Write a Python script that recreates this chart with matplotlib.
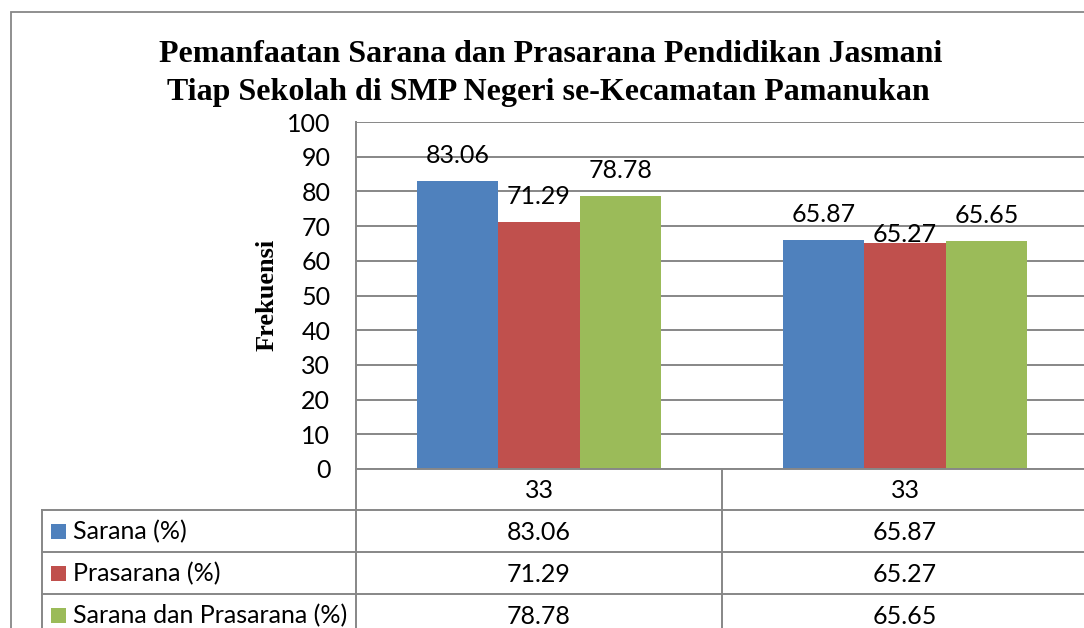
import matplotlib
matplotlib.use("Agg")
import matplotlib.pyplot as plt
from matplotlib.lines import Line2D
from matplotlib.patches import Rectangle
import matplotlib.transforms as mtransforms

# ---------------- data ----------------
title_lines = ["Pemanfaatan Sarana dan Prasarana Pendidikan Jasmani",
               "Tiap Sekolah di SMP Negeri se-Kecamatan Pamanukan"]
y_label = "Frekuensi"
categories = ["33", "33"]
series_names = ["Sarana (%)", "Prasarana (%)", "Sarana dan Prasarana (%)"]
sarana = [83.06, 65.87]
prasarana = [71.29, 65.27]
sarana_prasarana = [78.78, 65.65]
y_ticks = [0, 10, 20, 30, 40, 50, 60, 70, 80, 90, 100]

series_values = [sarana, prasarana, sarana_prasarana]
colors = ["#4F81BD", "#C0504D", "#9BBB59"]

# ---------------- layout helpers ----------------
W, H = 1084, 628
fig = plt.figure(figsize=(W / 100, H / 100), dpi=100)
fig.patch.set_facecolor("white")


def fx(x):
    return x / W


def fy(y):
    return 1 - y / H


NUM_FONT = ["Lato", "DejaVu Sans"]
NUM_SIZE = 18
SERIF = ["Liberation Serif", "DejaVu Serif"]
GRID_C = "#878787"

# chart border (extends beyond image at right/bottom)
fig.add_artist(Rectangle((fx(11), fy(700)), fx(1200) - fx(11), fy(12) - fy(700),
                         transform=fig.transFigure, fill=False,
                         edgecolor=GRID_C, lw=1.3))

ax = fig.add_axes([fx(356), fy(469), fx(1088) - fx(356), fy(122) - fy(469)])
ax.set_xlim(-0.5, len(categories) - 0.5)
ax.set_ylim(0, 100)
for s in ax.spines.values():
    s.set_visible(False)
ax.set_xticks([])
ax.set_yticks(y_ticks)
ax.set_yticklabels([str(t) for t in y_ticks], fontfamily=NUM_FONT, fontsize=NUM_SIZE)
ax.tick_params(axis="y", length=0, pad=18.5)
ax.yaxis.grid(True, color=GRID_C, lw=1.4)
ax.set_axisbelow(True)

bw = 0.2227
xs = list(range(len(categories)))
for i, (vals, col) in enumerate(zip(series_values, colors)):
    pos = [x + (i - 1) * bw for x in xs]
    ax.bar(pos, vals, bw, color=col, zorder=2)
    for j, (p, v) in enumerate(zip(pos, vals)):
        pad = 18
        if i == 1 and j == 1:
            pad = 1  # label pushed down to avoid neighbouring labels
        ax.annotate(f"{v:.2f}", (p, v), xytext=(0, pad), textcoords="offset pixels",
                    ha="center", va="baseline", fontfamily=NUM_FONT,
                    fontsize=NUM_SIZE, zorder=3)

# titles
fig.text(fx(551), fy(62), title_lines[0], ha="center", va="baseline",
         fontfamily=SERIF, fontweight="bold", fontsize=23)
fig.text(fx(548), fy(100), title_lines[1], ha="center", va="baseline",
         fontfamily=SERIF, fontweight="bold", fontsize=23)

# y label
fig.text(fx(267), fy(295), y_label, rotation=90, ha="center", va="center",
         fontfamily=SERIF, fontweight="bold", fontsize=19)

# ---------------- data table ----------------
blend = mtransforms.blended_transform_factory(ax.transData, fig.transFigure)
row_edges = [469, 510, 552, 594, 636]
lw_t = 1.4


def hline(x0_fig, y, x1_fig):
    fig.add_artist(Line2D([x0_fig, x1_fig], [fy(y), fy(y)], transform=fig.transFigure,
                          color=GRID_C, lw=lw_t))


# horizontal lines
hline(fx(356), row_edges[0], 1.05)
for y in row_edges[1:]:
    hline(fx(42), y, 1.05)
# vertical lines
fig.add_artist(Line2D([fx(42), fx(42)], [fy(510), fy(700)], transform=fig.transFigure,
                      color=GRID_C, lw=lw_t))
fig.add_artist(Line2D([fx(356), fx(356)], [fy(122), fy(700)], transform=fig.transFigure,
                      color=GRID_C, lw=lw_t))
for k in range(1, len(categories) + 1):
    fig.add_artist(Line2D([k - 0.5, k - 0.5], [fy(469), fy(700)], transform=blend,
                          color=GRID_C, lw=lw_t))

centers = [(row_edges[r] + row_edges[r + 1]) / 2 for r in range(4)]
# category row
for j, c in enumerate(categories):
    fig.text(j, fy(centers[0] + 9), c, transform=blend, ha="center", va="baseline",
             fontfamily=NUM_FONT, fontsize=NUM_SIZE)
# series rows
for i, (name, vals, col) in enumerate(zip(series_names, series_values, colors)):
    cy = centers[i + 1]
    fig.add_artist(Rectangle((fx(51), fy(cy + 7.5)), fx(15), 15 / H,
                             transform=fig.transFigure, facecolor=col, edgecolor="none"))
    fig.text(fx(73), fy(cy + 8.5), name, ha="left", va="baseline",
             fontfamily=NUM_FONT, fontsize=NUM_SIZE)
    for j, v in enumerate(vals):
        fig.text(j, fy(cy + 9), f"{v:.2f}", transform=blend, ha="center", va="baseline",
                 fontfamily=NUM_FONT, fontsize=NUM_SIZE)

fig.savefig("out.png", dpi=100, facecolor="white")
